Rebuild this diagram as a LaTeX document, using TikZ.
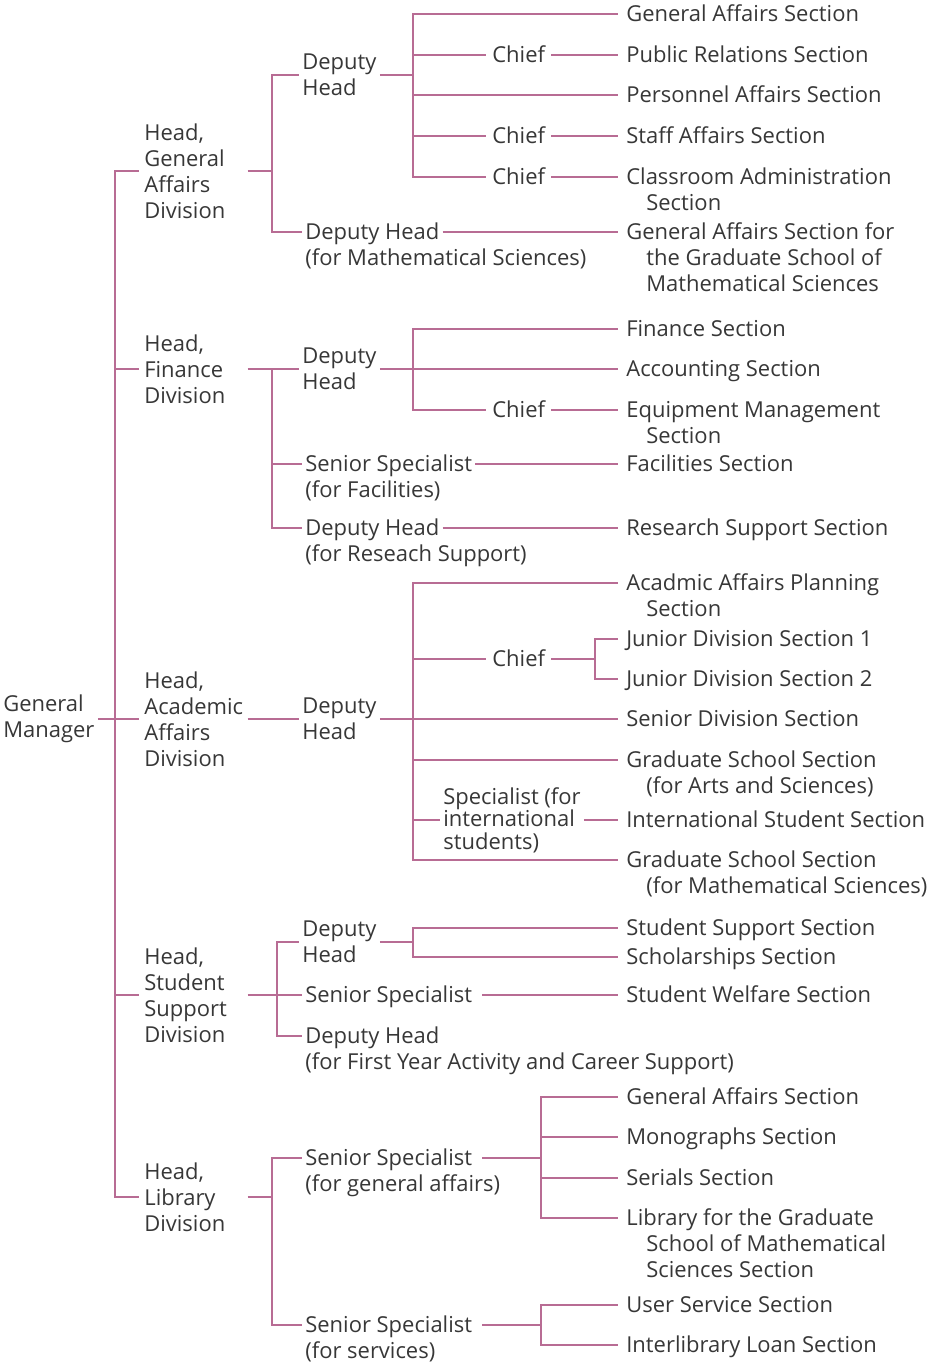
\documentclass[tikz,border=0pt]{standalone}
\usepackage{fontspec}
\setmainfont{Open Sans}
\definecolor{orgline}{RGB}{184,108,148}
\definecolor{orgtext}{RGB}{55,55,55}
\newcommand{\toplines}[1]{\begin{tabular}[t]{@{}l@{}}#1\end{tabular}}

\tikzset{
  conn/.style={draw=orgline, line width=1.1pt},
  lbl/.style={inner xsep=0.06cm, inner ysep=0pt, text=orgtext,
    font=\fontsize{12.5}{14.8}\selectfont},
  ctr/.style={lbl, align=left, anchor=west},
  firstline/.style={lbl, anchor=mid west,
    execute at begin node={\lower0.06cm\hbox\bgroup},
    execute at end node={\egroup}},
  division/.style={ctr, text width=1.96cm, inner xsep=0.1cm},
  chief/.style={firstline, inner xsep=0.12cm},
  sect/.style={firstline, inner xsep=0.16cm},
}

\begin{document}
\begin{tikzpicture}[x=0.02cm,y=-0.02cm]
  \useasboundingbox (0,0) rectangle (938,1363);
  % manager and divisions
  \node[ctr] (gm) at (0,719) {General\\Manager};
  \node[division] (dga) at (139,171) {Head,\\General\\Affairs\\Division};
  \node[division] (dfi) at (139,369) {Head,\\Finance\\Division};
  \node[division] (dac) at (139,719) {Head,\\Academic\\Affairs\\Division};
  \node[division] (dst) at (139,995) {Head,\\Student\\Support\\Division};
  \node[division] (dlb) at (139,1197) {Head,\\Library\\Division};
  \coordinate (trunk) at (115,719);
  \draw[conn] (gm.east) -- (trunk);
  \foreach \d in {dga,dfi,dac,dst,dlb}
    \draw[conn] (trunk) |- (\d.west);

  % general affairs
  \node[ctr] (gdh) at (299,75) {Deputy\\Head};
  \node[firstline] (gdm) at (302,232) {\toplines{Deputy Head\\\rlap{(for Mathematical Sciences)}}};
  \coordinate (ga-v) at (272,171);
  \draw[conn] (dga.east) -- (ga-v);
  \draw[conn] (ga-v) |- (gdh.west) (ga-v) |- (gdm.mid west);
  \coordinate (g-v) at (413,75);
  \node[sect] (s-gas) at (618,14) {General Affairs Section};
  \node[chief] (c-pr) at (486,55) {Chief};
  \node[sect] (s-pr) at (618,55) {Public Relations Section};
  \node[sect] (s-pe) at (618,95) {Personnel Affairs Section};
  \node[chief] (c-sa) at (486,136) {Chief};
  \node[sect] (s-sa) at (618,136) {Staff Affairs Section};
  \node[chief] (c-ca) at (486,177) {Chief};
  \node[sect] (s-ca) at (618,177) {\toplines{Classroom Administration\\\hspace*{0.4cm}Section}};
  \node[sect] (s-gm) at (618,232) {\toplines{General Affairs Section for\\\hspace*{0.4cm}the Graduate School of\\\hspace*{0.4cm}Mathematical Sciences}};
  \draw[conn] (gdh.east) -- (g-v);
  \foreach \n in {s-gas,c-pr,s-pe,c-sa,c-ca}
    \draw[conn] (g-v) |- (\n.mid west);
  \draw[conn] (c-pr.mid east) -- (s-pr.mid west);
  \draw[conn] (c-sa.mid east) -- (s-sa.mid west);
  \draw[conn] (c-ca.mid east) -- (s-ca.mid west);
  \draw[conn] (gdm.mid east) -- (s-gm.mid west);

  % finance
  \node[ctr] (fdh) at (299,369) {Deputy\\Head};
  \node[firstline] (fss) at (302,464) {\toplines{Senior Specialist\\(for Facilities)}};
  \node[firstline] (fdr) at (302,528) {\toplines{Deputy Head\\\rlap{(for Reseach Support)}}};
  \coordinate (fi-v) at (272,369);
  \draw[conn] (dfi.east) -- (fdh.west);
  \draw[conn] (fi-v) |- (fss.mid west) (fi-v) |- (fdr.mid west);
  \coordinate (f-v) at (413,369);
  \node[sect] (s-fi) at (618,329) {Finance Section};
  \node[sect] (s-ac) at (618,369) {Accounting Section};
  \node[chief] (c-em) at (486,410) {Chief};
  \node[sect] (s-em) at (618,410) {\toplines{Equipment Management\\\hspace*{0.4cm}Section}};
  \node[sect] (s-fa) at (618,464) {Facilities Section};
  \node[sect] (s-rs) at (618,528) {Research Support Section};
  \draw[conn] (fdh.east) -- (s-ac.mid west);
  \draw[conn] (f-v) |- (s-fi.mid west) (f-v) |- (c-em.mid west);
  \draw[conn] (c-em.mid east) -- (s-em.mid west);
  \draw[conn] (fss.mid east) -- (s-fa.mid west);
  \draw[conn] (fdr.mid east) -- (s-rs.mid west);

  % academic affairs
  \node[ctr] (adh) at (299,719) {Deputy\\Head};
  \draw[conn] (dac.east) -- (adh.west);
  \coordinate (a-v) at (413,719);
  \node[sect] (s-ap) at (618,583) {\toplines{Acadmic Affairs Planning\\\hspace*{0.4cm}Section}};
  \node[chief] (c-jd) at (486,659) {Chief};
  \coordinate (j-v) at (595,659);
  \node[sect] (s-j1) at (618,639) {Junior Division Section 1};
  \node[sect] (s-j2) at (618,679) {Junior Division Section 2};
  \node[sect] (s-sd) at (618,719) {Senior Division Section};
  \node[sect] (s-gs) at (618,760) {\toplines{Graduate School Section\\\hspace*{0.4cm}(for Arts and Sciences)}};
  \node[ctr, font=\fontsize{12.5}{12.8}\selectfont] (sp-is) at (440,820) {Specialist (for\\international\\students)};
  \node[sect] (s-is) at (618,820) {International Student Section};
  \node[sect] (s-gm2) at (618,860) {\toplines{Graduate School Section\\\hspace*{0.4cm}(for Mathematical Sciences)}};
  \draw[conn] (adh.east) -- (s-sd.mid west);
  \foreach \n in {s-ap,c-jd,s-gs,s-gm2}
    \draw[conn] (a-v) |- (\n.mid west);
  \draw[conn] (a-v) |- (sp-is.west);
  \draw[conn] (c-jd.mid east) -- (j-v);
  \draw[conn] (j-v) |- (s-j1.mid west) (j-v) |- (s-j2.mid west);
  \draw[conn] (sp-is.east) -- (s-is.mid west);

  % student support
  \node[ctr] (sdh) at (299,942) {Deputy\\Head};
  \node[firstline] (sss) at (302,995) {Senior Specialist};
  \node[firstline] (sdf) at (302,1036) {\toplines{Deputy Head\\(for First Year Activity and Career Support)}};
  \coordinate (st-v) at (277,995);
  \draw[conn] (dst.east) -- (sss.mid west);
  \draw[conn] (st-v) |- (sdh.west) (st-v) |- (sdf.mid west);
  \coordinate (s-v) at (413,942);
  \node[sect] (s-ss) at (618,928) {Student Support Section};
  \node[sect] (s-sc) at (618,957) {Scholarships Section};
  \node[sect] (s-sw) at (618,995) {Student Welfare Section};
  \draw[conn] (sdh.east) -- (s-v);
  \draw[conn] (s-v) |- (s-ss.mid west) (s-v) |- (s-sc.mid west);
  \draw[conn] ([xshift=0.14cm]sss.mid east) -- (s-sw.mid west);

  % library
  \node[firstline] (lsg) at (302,1158) {\toplines{Senior Specialist\\\rlap{(for general affairs)}}};
  \node[firstline] (lsv) at (302,1325) {\toplines{Senior Specialist\\(for services)}};
  \coordinate (lb-v) at (272,1197);
  \draw[conn] (dlb.east) -- (lb-v);
  \draw[conn] (lb-v) |- (lsg.mid west) (lb-v) |- (lsv.mid west);
  \coordinate (l1-v) at (541,1158);
  \coordinate (l2-v) at (541,1325);
  \node[sect] (s-lg) at (618,1097) {General Affairs Section};
  \node[sect] (s-mo) at (618,1137) {Monographs Section};
  \node[sect] (s-se) at (618,1178) {Serials Section};
  \node[sect] (s-lib) at (618,1218) {\toplines{Library for the Graduate\\\hspace*{0.4cm}School of Mathematical\\\hspace*{0.4cm}Sciences Section}};
  \node[sect] (s-us) at (618,1305) {User Service Section};
  \node[sect] (s-il) at (618,1345) {Interlibrary Loan Section};
  \draw[conn] ([xshift=0.14cm]lsg.mid east) -- (l1-v);
  \draw[conn] ([xshift=0.14cm]lsv.mid east) -- (l2-v);
  \foreach \n in {s-lg,s-mo,s-se,s-lib}
    \draw[conn] (l1-v) |- (\n.mid west);
  \draw[conn] (l2-v) |- (s-us.mid west) (l2-v) |- (s-il.mid west);
\end{tikzpicture}
\end{document}
